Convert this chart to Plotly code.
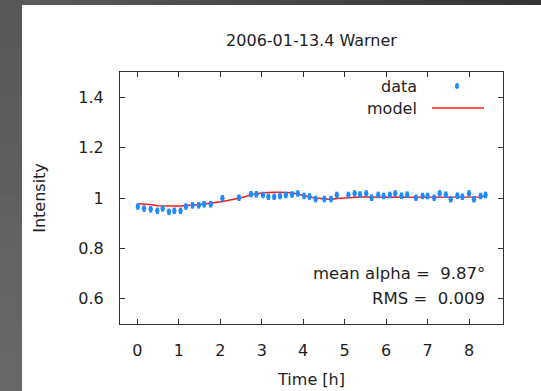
import plotly.graph_objects as go

# ---- data ----
time_h = [0.01, 0.16, 0.32, 0.48, 0.61, 0.76, 0.89, 1.04, 1.17, 1.33, 1.48, 1.61, 1.77,
          2.05, 2.45, 2.74, 2.87, 3.03, 3.16, 3.30, 3.44, 3.58, 3.73, 3.87, 4.02, 4.15,
          4.30, 4.51, 4.67, 4.81,
          5.09, 5.24, 5.37, 5.52, 5.65, 5.81, 5.94, 6.09, 6.22,
          6.37, 6.51, 6.72, 6.88, 7.00, 7.16, 7.29, 7.44, 7.56, 7.72, 7.84, 8.00, 8.12, 8.28, 8.40]
intensity = [0.966, 0.958, 0.955, 0.949, 0.959, 0.945, 0.949, 0.949, 0.966, 0.971, 0.971, 0.975, 0.975,
             0.999, 1.001, 1.015, 1.015, 1.012, 1.005, 1.005, 1.008, 1.012, 1.014, 1.018, 1.008, 1.006,
             0.996, 0.996, 0.996, 1.012,
             1.012, 1.018, 1.014, 1.018, 1.001, 1.012, 1.008, 1.012, 1.018,
             1.009, 1.013, 1.001, 1.008, 1.008, 1.001, 1.018, 1.013, 0.995, 1.009, 1.005, 1.018, 0.995, 1.008, 1.012]
model = [0.977, 0.977, 0.974, 0.969, 0.968, 0.968, 0.968, 0.968, 0.969, 0.971, 0.974, 0.976, 0.979,
         0.986, 0.999, 1.012, 1.017, 1.021, 1.023, 1.023, 1.023, 1.023, 1.021, 1.016, 1.008, 1.004,
         1.000, 0.995, 0.994, 0.998,
         1.002, 1.004, 1.004, 1.004, 1.003, 1.003, 1.003, 1.003, 1.003,
         1.004, 1.004, 1.003, 1.002, 1.002, 1.002, 1.002, 1.002, 1.002, 1.002, 1.002, 1.002, 1.002, 1.004, 1.008]
x_ticks = [0, 1, 2, 3, 4, 5, 6, 7, 8]
y_ticks = [0.6, 0.8, 1.0, 1.2, 1.4]
y_ticktext = ["0.6", "0.8", "1", "1.2", "1.4"]
title_text = "2006-01-13.4 Warner"
stats_lines = ["mean alpha =\u00a0\u00a09.87°", "RMS =\u00a0\u00a00.009"]

FONT = "DejaVu Sans"
TXT = "#1e1e1e"
BLUE = "#1a8cff"
RED = "#ff1a1a"

fig = go.Figure()
fig.add_trace(go.Scatter(
    x=time_h, y=model, mode="lines", name="model",
    line=dict(color=RED, width=1.5), showlegend=False))
fig.add_trace(go.Scatter(
    x=time_h, y=intensity, mode="markers", name="data",
    marker=dict(color=BLUE, size=4.5),
    error_y=dict(type="constant", value=0.013, color=BLUE, thickness=3, width=0),
    showlegend=False))

L, R, T, B = 120, 38, 72, 67
W, H = 541, 391
pw, ph = W - L - R, H - T - B

def px(x):
    return (x - L) / pw

def py(y):
    return (H - B - y) / ph

shapes = []
# dark frame background (left + top strips with slight gradient)
shapes.append(dict(type="rect", xref="paper", yref="paper", x0=px(-5), x1=px(W + 5),
                   y0=py(H + 5), y1=py(-5), fillcolor="#5e5e5e", line=dict(width=0), layer="below"))
nseg = 16
for i in range(nseg):
    y0 = -5 + i * (H + 10) / nseg
    y1 = y0 + (H + 10) / nseg + 2
    g = int(round(0x58 + (0x68 - 0x58) * i / (nseg - 1)))
    shapes.append(dict(type="rect", xref="paper", yref="paper", x0=px(-5), x1=px(23),
                       y0=py(y1), y1=py(y0), fillcolor="#%02x%02x%02x" % (g, g, g),
                       line=dict(width=0), layer="below"))
nseg_top = 40
for i in range(nseg_top):
    x0 = 22 + i * (W - 22) / nseg_top
    x1 = x0 + (W - 22) / nseg_top + 2
    g = int(round(0x5a + (0x33 - 0x5a) * i / (nseg_top - 1)))
    shapes.append(dict(type="rect", xref="paper", yref="paper", x0=px(x0), x1=px(x1),
                       y0=py(5.5), y1=py(-5), fillcolor="#%02x%02x%02x" % (g, g, g),
                       line=dict(width=0), layer="below"))
shapes.append(dict(type="rect", xref="paper", yref="paper", x0=px(22), x1=px(W + 5),
                   y0=py(H + 5), y1=py(5), fillcolor="white", line=dict(width=0), layer="below"))
# legend keys
shapes.append(dict(type="circle", xref="paper", yref="paper", xsizemode="pixel", ysizemode="pixel",
                   xanchor=px(457), yanchor=py(86), x0=-2, x1=2, y0=-3, y1=3,
                   fillcolor=BLUE, line=dict(width=0)))
shapes.append(dict(type="line", xref="paper", yref="paper", x0=px(432), x1=px(484),
                   y0=py(108), y1=py(108), line=dict(color=RED, width=1.5)))

annotations = [
    dict(text="data", xref="paper", yref="paper", x=px(419), y=py(86), xanchor="right", yanchor="middle",
         showarrow=False, font=dict(family=FONT, size=16, color=TXT)),
    dict(text="model", xref="paper", yref="paper", x=px(419), y=py(108), xanchor="right", yanchor="middle",
         showarrow=False, font=dict(family=FONT, size=16, color=TXT)),
    dict(text=stats_lines[0], xref="paper", yref="paper", x=px(487), y=py(273), xanchor="right",
         yanchor="middle", showarrow=False, font=dict(family=FONT, size=16.5, color=TXT)),
    dict(text=stats_lines[1], xref="paper", yref="paper", x=px(487), y=py(298), xanchor="right",
         yanchor="middle", showarrow=False, font=dict(family=FONT, size=16.5, color=TXT)),
]

axis_common = dict(showgrid=False, zeroline=False, showline=True, linecolor="#333", linewidth=1,
                   mirror="allticks", ticks="inside", ticklen=5, tickcolor="#333", tickwidth=1,
                   tickfont=dict(family=FONT, size=16, color=TXT))

fig.update_layout(
    width=W, height=H,
    margin=dict(l=L, r=R, t=T, b=B, autoexpand=False),
    paper_bgcolor="white", plot_bgcolor="white",
    title=dict(text=title_text, x=311.5 / W, xanchor="center", xref="container",
               y=1 - 40 / H, yanchor="middle", font=dict(family=FONT, size=16, color=TXT)),
    xaxis=dict(range=[-0.42, 8.82], tickvals=x_ticks, ticklabelstandoff=12,
               title=dict(text="Time [h]", standoff=14, font=dict(family=FONT, size=16, color=TXT)),
               **axis_common),
    yaxis=dict(range=[0.5, 1.5], tickvals=y_ticks, ticktext=y_ticktext, ticklabelstandoff=12,
               title=dict(text="Intensity", standoff=28, font=dict(family=FONT, size=16, color=TXT)),
               **axis_common),
    shapes=shapes, annotations=annotations, showlegend=False,
)

fig.write_html("out.html")
